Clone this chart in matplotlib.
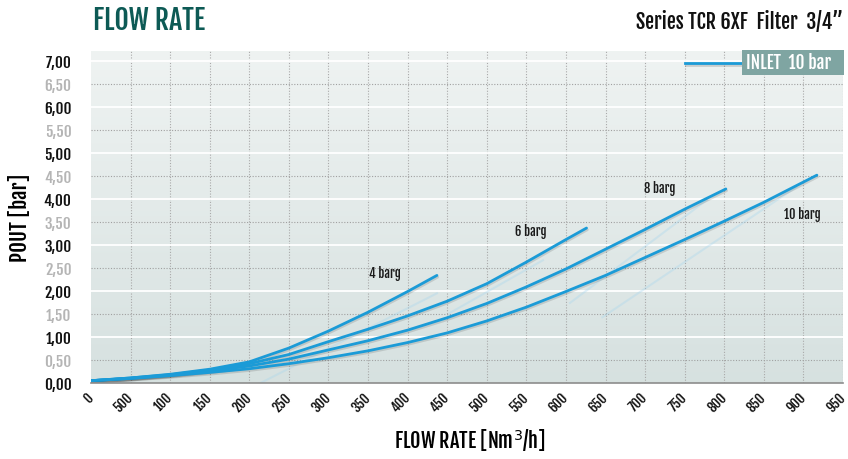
import numpy as np
import matplotlib
matplotlib.use("Agg")
import matplotlib.pyplot as plt
import matplotlib.patheffects as pe

plt.rcParams['font.family'] = ['Fjalla One', 'Oswald', 'Roboto Condensed', 'DejaVu Sans']

# data
flow_4 = [0, 50, 100, 150, 200, 250, 300, 350, 400, 437]
pout_4 = [0.05, 0.11, 0.19, 0.30, 0.46, 0.76, 1.13, 1.54, 1.99, 2.34]
flow_6 = [0, 50, 100, 150, 200, 250, 300, 350, 400, 450, 500, 550, 600, 626]
pout_6 = [0.05, 0.11, 0.18, 0.28, 0.42, 0.62, 0.90, 1.17, 1.46, 1.78, 2.16, 2.63, 3.12, 3.37]
flow_8 = [0, 50, 100, 150, 200, 250, 300, 350, 400, 450, 500, 550, 600, 650, 700, 750, 802]
pout_8 = [0.05, 0.10, 0.17, 0.26, 0.37, 0.52, 0.72, 0.92, 1.15, 1.42, 1.73, 2.09, 2.48, 2.91, 3.34, 3.78, 4.22]
flow_10 = [0, 50, 100, 150, 200, 250, 300, 350, 400, 450, 500, 550, 600, 650, 700, 750, 800, 850, 917]
pout_10 = [0.05, 0.10, 0.16, 0.23, 0.31, 0.42, 0.55, 0.70, 0.88, 1.09, 1.35, 1.65, 1.99, 2.34, 2.73, 3.12, 3.52, 3.93, 4.52]

curves = [(flow_4, pout_4), (flow_6, pout_6), (flow_8, pout_8), (flow_10, pout_10)]
curve_names = ['4 barg', '6 barg', '8 barg', '10 barg']
name_pos = [(371, 2.39), (556, 3.30), (718, 4.24), (899, 3.67)]

# faint reflections beside the curves
glare_x = [[197, 437], [453, 571], [605, 778], [646, 891]]
glare_y = [[-0.15, 1.95], [1.52, 2.67], [1.74, 3.98], [1.43, 4.26]]

x_ticks = list(range(0, 951, 50))
x_labels = ['0', '500'] + [str(v) for v in range(100, 951, 50)]
y_ticks = np.arange(0, 7.01, 0.5)
y_labels = [('%.2f' % v).replace('.', ',') for v in y_ticks]

blue = '#1b9bd7'

fig = plt.figure(figsize=(8.48, 4.59), dpi=100)
ax = fig.add_axes([91/848, 1 - 383/459, 752/848, 332/459])
ax.set_xlim(0, 950)
ax.set_ylim(0, 7.22)

# background gradient
grad = np.linspace(0, 1, 256).reshape(-1, 1)
top = np.array([0.937, 0.953, 0.949])
bot = np.array([0.840, 0.882, 0.878])
img = top + (bot - top) * grad[:, :, None] * np.ones((1, 1, 3))
ax.imshow(img, extent=[0, 950, 0, 7.22], aspect='auto', origin='upper', zorder=0)

# grid
for xv in x_ticks[1:]:
    ax.axvline(xv, color='#a9a9a9', lw=0.8, ls=(0, (1, 1.5)), zorder=1)
for yv in y_ticks[1:]:
    if yv % 1 == 0:
        ax.axhline(yv, color='white', lw=1.3, zorder=1)
    else:
        ax.axhline(yv, color='#a0a0a0', lw=0.8, ls=(0, (1, 1.5)), zorder=1)

for gx, gy in zip(glare_x, glare_y):
    ax.plot(gx, gy, color='#a6d6ee', lw=1.5, alpha=0.35, zorder=2)

for (fx, py) in curves:
    ax.plot(fx, py, color=blue, lw=2.0, zorder=3, solid_capstyle='round', solid_joinstyle='round',
            path_effects=[pe.SimpleLineShadow(offset=(0.6, -1.2), shadow_color='black', alpha=0.12),
                          pe.Normal()])

for name, (px, py) in zip(curve_names, name_pos):
    ax.text(px, py, name, fontsize=9, ha='center', va='center', color='#1a1a1a', zorder=4)

# legend
ax.plot([750, 828], [6.95, 6.95], color=blue, lw=2.0, zorder=5,
        path_effects=[pe.SimpleLineShadow(offset=(0.6, -1.2), alpha=0.15), pe.Normal()])
fig.patches.append(plt.Rectangle((742/848, 1 - 75/459), 102/848, 25/459, transform=fig.transFigure,
                                 facecolor='#7fa5a2', edgecolor='none', zorder=6))
fig.text(789/848, 1 - 63/459, 'INLET  10 bar', color='white', fontsize=12.5, ha='center', va='center', zorder=7)

ax.set_xticks(x_ticks)
ax.set_xticklabels([])
ax.set_yticks(y_ticks)
ax.set_yticklabels(y_labels, fontsize=11)
for i, lab in enumerate(ax.get_yticklabels()):
    lab.set_color('#111111' if i % 2 == 0 else '#b5b5b5')
ax.tick_params(axis='both', length=0)
ax.tick_params(axis='y', pad=14)
for xv, lab in zip(x_ticks, x_labels):
    ax.annotate(lab, (xv, 0), xytext=(0, -9), textcoords='offset points', rotation=45,
                ha='right', va='center', rotation_mode='anchor', fontsize=9.5,
                color='#111111', annotation_clip=False)

for s in ['top', 'right', 'left']:
    ax.spines[s].set_visible(False)
ax.spines['bottom'].set_color('#8c8c8c')
ax.spines['bottom'].set_linewidth(1.2)
ax.spines['bottom'].set_zorder(5)

fig.text(93/848, 1 - 21/459, 'FLOW RATE', color='#0d5a55', fontsize=20,
         ha='left', va='center')
fig.text(843/848, 1 - 22/459, 'Series TCR 6XF  Filter  3/4\u201d', color='#111111', fontsize=14.5,
         ha='right', va='center')
fig.text(20/848, 1 - 218/459, 'POUT [bar]', rotation=90, fontsize=15,
         ha='center', va='center')
fig.text(470/848, 1 - 440/459, 'FLOW RATE [Nm$^3$/h]', fontsize=14.5,
         ha='center', va='center')

fig.savefig('out.png', dpi=100)
